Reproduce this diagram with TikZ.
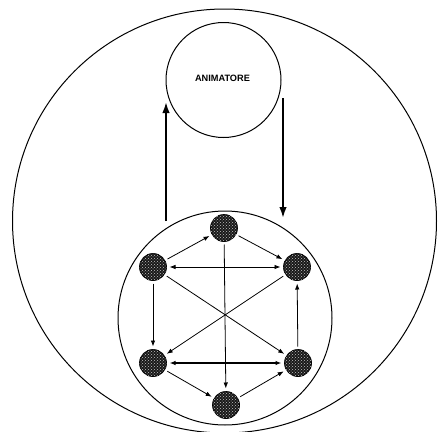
\documentclass[tikz,border=0pt]{standalone}
\usepackage{fontspec}
\setmainfont{Liberation Sans}
\usetikzlibrary{arrows.meta,patterns}
\begin{document}
\begin{tikzpicture}[x=1pt,y=-1pt,
  bigcirc/.style={circle,draw=black,line width=1pt,inner sep=0pt},
  member/.style={circle,draw=black,line width=0.8pt,fill=black!90,minimum size=27pt,inner sep=0pt,outer sep=3pt,
    postaction={pattern=crosshatch dots,pattern color=white!75!black}},
  link/.style={line width=0.8pt,-{Latex[length=6pt,width=4.5pt]}},
  dlink/.style={line width=0.8pt,{Latex[length=6pt,width=4.5pt]}-{Latex[length=6pt,width=4.5pt]}},
  flow/.style={line width=1.8pt,-{Latex[length=11pt,width=7.5pt]}}]
\useasboundingbox (0,0) rectangle (439,431);
\begin{scope}
\clip (0,0) rectangle (439,431);
\node[bigcirc,minimum size=424pt] (world) at (224.5,221) {};
\end{scope}
\node[bigcirc,minimum size=115pt] (anim) at (223.5,80) {};
\node[font=\bfseries\fontsize{9.2}{10}\selectfont] (lab) at (222.5,78.5) {ANIMATORE};
\node[bigcirc,minimum size=214pt] (group) at (225,318) {};
\node[member] (t) at (224,228) {};
\node[member] (ul) at (153,267) {};
\node[member] (ur) at (297,267) {};
\node[member] (ll) at (153,363) {};
\node[member] (lr) at (298,363) {};
\node[member] (b) at (226,405) {};
\draw[link] (ul) -- (t);
\draw[link] (t) -- (ur);
\draw[dlink] (ul) -- (ur);
\draw[link] (t) -- (b);
\draw[link] (ul) -- (ll);
\draw[link] (lr) -- (ur);
\draw[link] (ul) -- (lr);
\draw[link] (ur) -- (ll);
\draw[dlink,line width=1.1pt] (ll) -- (lr);
\draw[link] (ll) -- (b);
\draw[link] (b) -- (lr);
\coordinate (upstart) at (166,221);
\coordinate (upend) at (166,102);
\coordinate (dnstart) at (283,98);
\coordinate (dnend) at (283,218);
\draw[flow] (upstart) -- (upend);
\draw[flow] (dnstart) -- (dnend);
\end{tikzpicture}
\end{document}
